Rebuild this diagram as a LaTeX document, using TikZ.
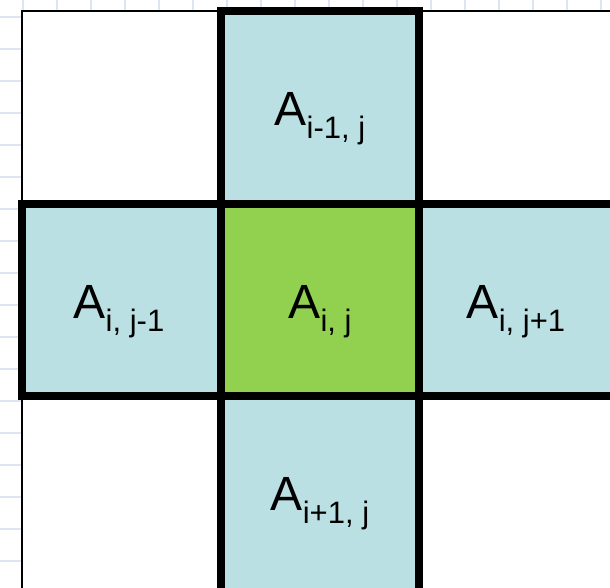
\documentclass[tikz,border=0pt]{standalone}
\usepackage{fontspec}
\setmainfont{Liberation Sans}
\definecolor{cellblue}{HTML}{BBE0E3}
\definecolor{cellgreen}{HTML}{92D050}
\definecolor{gridblue}{HTML}{DCE6F2}
\newcommand\cellA[1]{\fontsize{48}{48}\selectfont A\raisebox{-13pt}{\fontsize{31}{31}\selectfont #1}}
\begin{document}
\begin{tikzpicture}[x=1pt,y=-1pt,
  gridline/.style={draw=gridblue,line width=1.5pt},
  thincell/.style={draw=black,fill=white,line width=2.2pt},
  thickcell/.style={draw=black,line width=8pt,line join=miter},
  lab/.style={anchor=base,inner sep=0pt,text=black}]
\useasboundingbox (0,0) rectangle (610,587);
\clip (0,0) rectangle (610,587);
\fill[white] (0,0) rectangle (610,587);
% background grid
\foreach \k in {0,...,17} {
  \draw[gridline] ({23+34*\k},0) -- ({23+34*\k},587);
  \draw[gridline] (0,{17+32*\k}) -- (610,{17+32*\k});
}
\fill[white] (22,11) rectangle (640,620);
% white cells
\draw[thincell] (22,11) rectangle (221,204);
\draw[thincell] (419,11) rectangle (640,204);
\draw[thincell] (22,396) rectangle (221,620);
\draw[thincell] (419,396) rectangle (640,620);
% coloured cells
\draw[thickcell,fill=cellblue] (221,11) rectangle (419,204);
\draw[thickcell,fill=cellblue] (22,204) rectangle (221,396);
\draw[thickcell,fill=cellblue] (419,204) rectangle (640,396);
\draw[thickcell,fill=cellblue] (221,396) rectangle (419,640);
\draw[thickcell,fill=cellgreen] (221,204) rectangle (419,396);
% labels
\node[lab] (top) at (320,125) {\cellA{i-1, j}};
\node[lab] (left) at (119,318) {\cellA{i, j-1}};
\node[lab] (mid) at (320,318) {\cellA{i, j}};
\node[lab] (right) at (516,318) {\cellA{i, j+1}};
\node[lab] (bottom) at (320,510) {\cellA{i+1, j}};
\end{tikzpicture}
\end{document}
